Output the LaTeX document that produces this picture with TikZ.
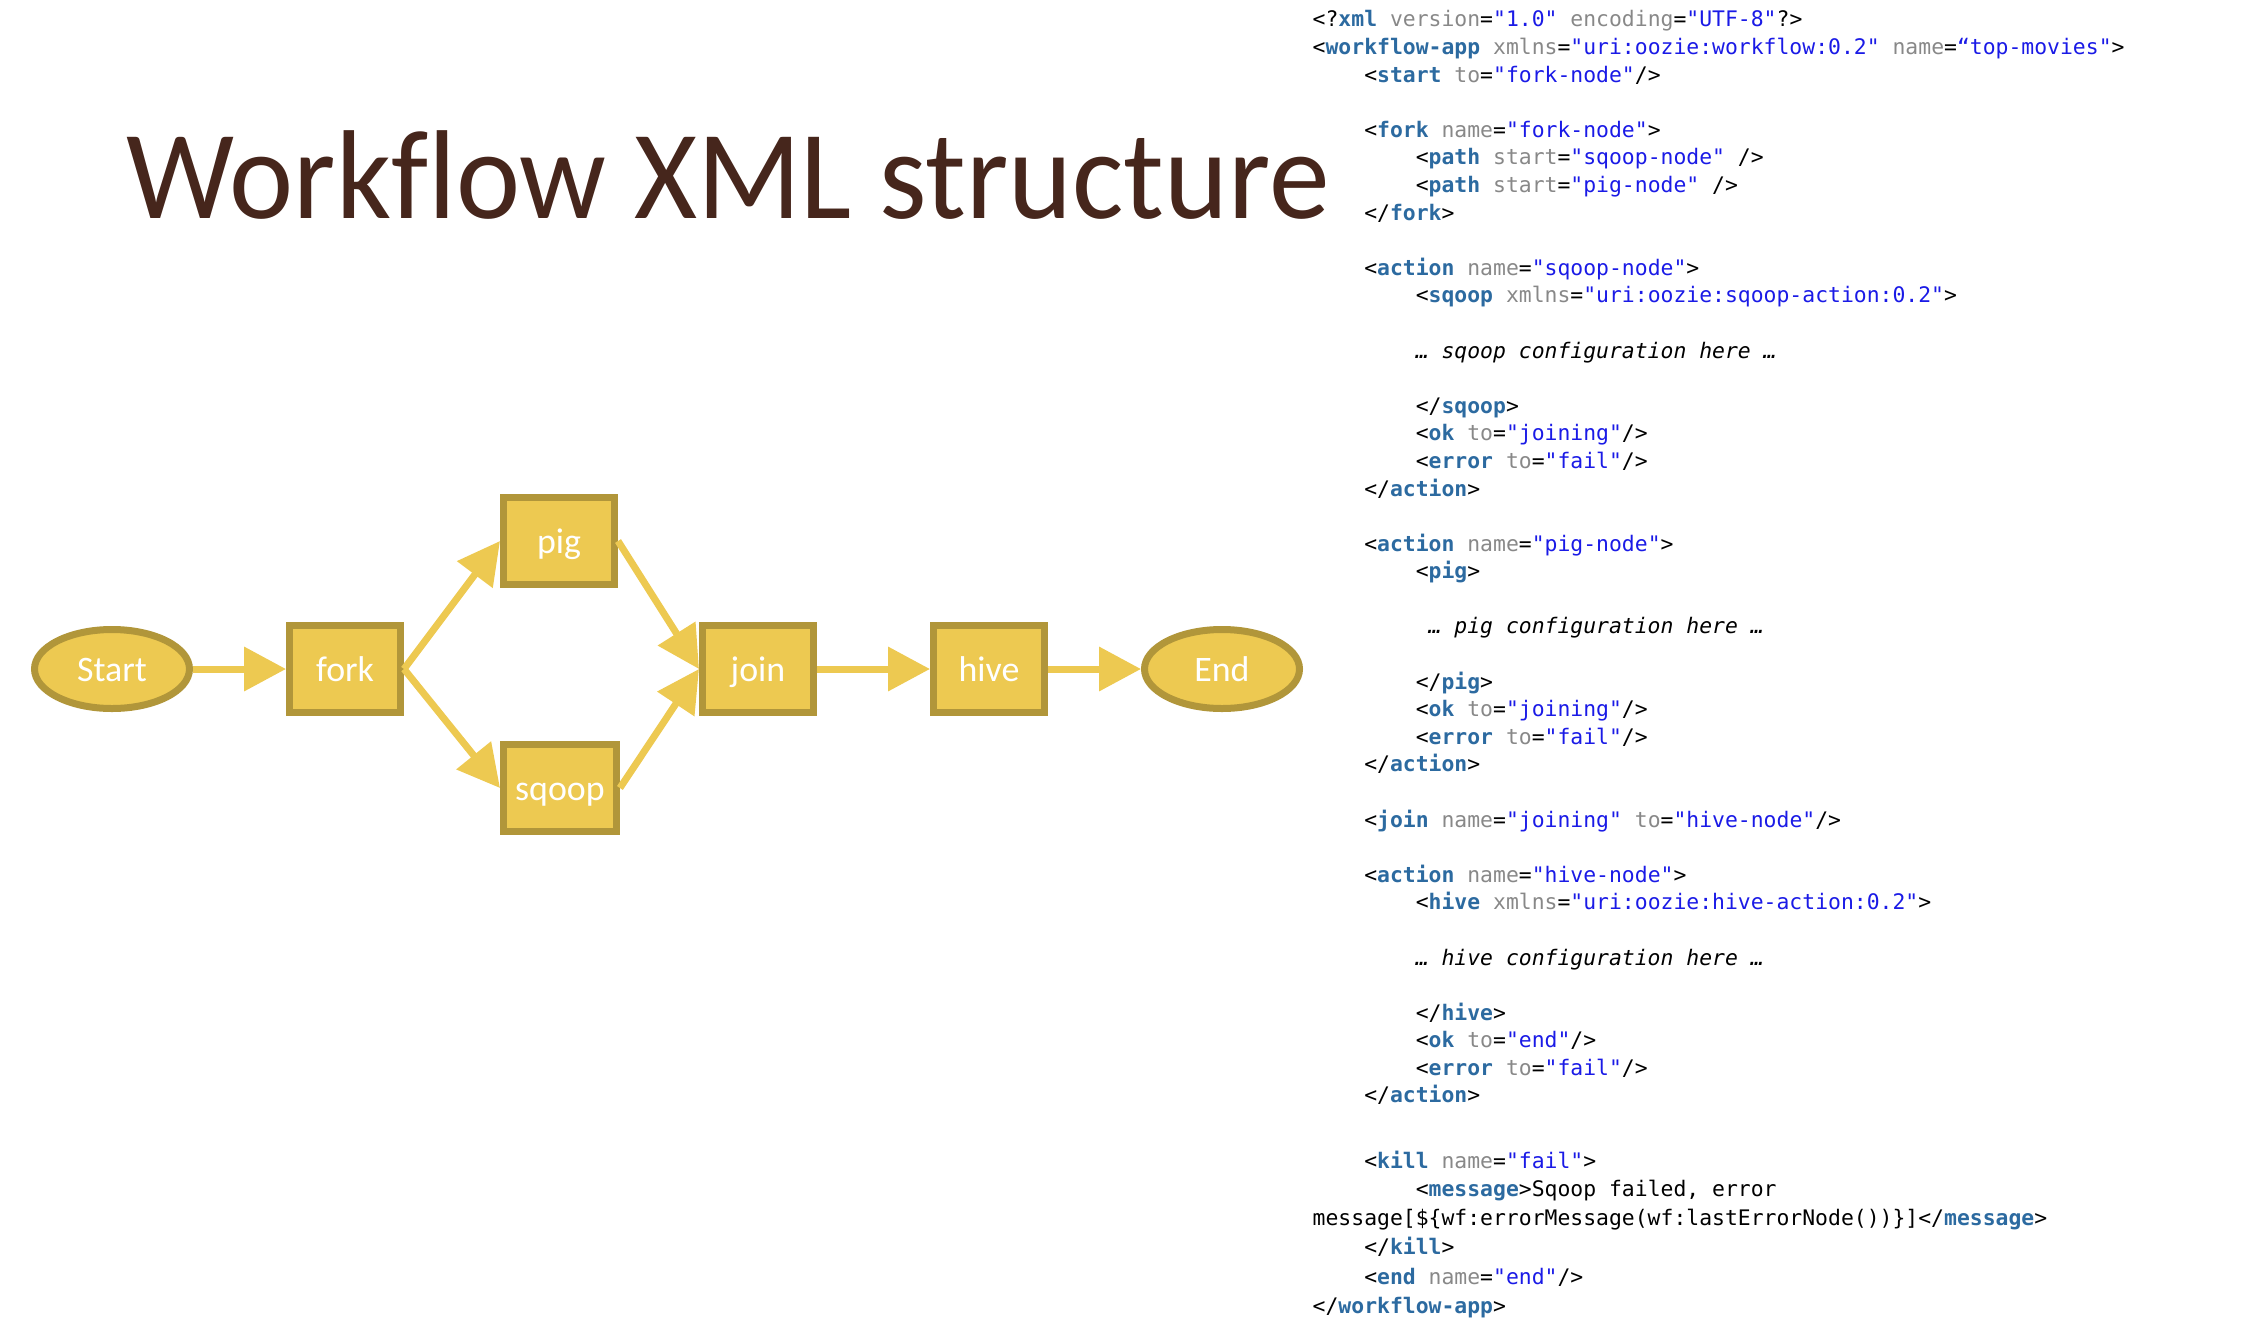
\documentclass[tikz,border=0pt]{standalone}
\usepackage{fontspec}
\usepackage{xcolor}
\usepackage{tikz}
\usetikzlibrary{shapes.geometric, arrows.meta, positioning}

\setmainfont{Carlito}
\newfontfamily\headfont[FakeStretch=0.96, Ligatures=NoCommon]{Carlito}
\newfontfamily\xmlmono{DejaVu Sans Mono}

\definecolor{flowfill}{HTML}{EDC951}
\definecolor{flowline}{HTML}{B1963A}
\definecolor{titlebrown}{HTML}{46261C}
\definecolor{tagblue}{HTML}{2C6AA0}
\definecolor{attrgray}{HTML}{888888}
\definecolor{valblue}{HTML}{1A1AE6}

\newcommand\xt[1]{\textcolor{tagblue}{\bfseries #1}}
\newcommand\xa[1]{\textcolor{attrgray}{#1}}
\newcommand\xv[1]{\textcolor{valblue}{#1}}
\newcommand\xind[1]{\hspace*{#1\fontcharwd\font`0}}

\tikzset{
  title/.style={text=titlebrown, font=\headfont\fontsize{36}{40}\selectfont, inner sep=0pt},
  stepbox/.style={rectangle, draw=flowline, fill=flowfill, line width=0.07cm,
    minimum width=1.11cm, minimum height=0.87cm, text=white,
    text height=0.95em, text depth=0.23em,
    font=\fontsize{10.2}{12}\selectfont},
  terminal/.style={ellipse, draw=flowline, fill=flowfill, line width=0.07cm,
    minimum width=1.55cm, minimum height=0.79cm, inner sep=0pt, text=white,
    text height=0.95em, text depth=0.23em,
    font=\fontsize{10.2}{12}\selectfont},
  flowarrow/.style={draw=flowfill, line width=0.07cm,
    -{Triangle[length=0.42cm, width=0.43cm]}},
  codeblock/.style={align=left, inner sep=0pt,
    font=\xmlmono\fontsize{6.09}{7.85}\selectfont}
}

\begin{document}
\begin{tikzpicture}
\useasboundingbox (0,0) rectangle (22.46,-13.42);

\node[title, anchor=base west] (heading) at (1.26,-2.18) {Workflow XML structure};

% workflow graph
\node[terminal] (start) at (1.12,-6.69) {Start};
\node[stepbox, right=0.93cm of start] (fork) {fork};
\node[stepbox, right=0.96cm of fork, yshift=1.28cm] (pig) {pig};
\node[stepbox, right=0.96cm of fork, yshift=-1.19cm] (sqoop) {sqoop};
\node[stepbox, right=2.95cm of fork] (join) {join};
\node[stepbox, right=1.13cm of join] (hive) {hive};
\node[terminal, right=0.93cm of hive] (end) {End};

\draw[flowarrow] (start) -- (fork);
\draw[flowarrow] (fork.east) -- (pig.west);
\draw[flowarrow] (fork.east) -- (sqoop.west);
\draw[flowarrow] (pig.east) -- (join.west);
\draw[flowarrow] (sqoop.east) -- (join.west);
\draw[flowarrow] (join) -- (hive);
\draw[flowarrow] (hive) -- (end);

% xml listing
\node[codeblock, anchor=north west] (xmlcode) at (13.12,-0.10) {%
<?\xt{xml} \xa{version}=\xv{"1.0"} \xa{encoding}=\xv{"UTF-8"}?>\\
<\xt{workflow-app} \xa{xmlns}=\xv{"uri:oozie:workflow:0.2"} \xa{name}=\xv{“top-movies"}>\\
\xind{4}<\xt{start} \xa{to}=\xv{"fork-node"}/>\\
\strut\\
\xind{4}<\xt{fork} \xa{name}=\xv{"fork-node"}>\\
\xind{8}<\xt{path} \xa{start}=\xv{"sqoop-node"} />\\
\xind{8}<\xt{path} \xa{start}=\xv{"pig-node"} />\\
\xind{4}</\xt{fork}>\\
\strut\\
\xind{4}<\xt{action} \xa{name}=\xv{"sqoop-node"}>\\
\xind{8}<\xt{sqoop} \xa{xmlns}=\xv{"uri:oozie:sqoop-action:0.2"}>\\
\strut\\
\xind{8}\textit{… sqoop configuration here …}\\
\strut\\
\xind{8}</\xt{sqoop}>\\
\xind{8}<\xt{ok} \xa{to}=\xv{"joining"}/>\\
\xind{8}<\xt{error} \xa{to}=\xv{"fail"}/>\\
\xind{4}</\xt{action}>\\
\strut\\
\xind{4}<\xt{action} \xa{name}=\xv{"pig-node"}>\\
\xind{8}<\xt{pig}>\\
\strut\\
\xind{9}\textit{… pig configuration here …}\\
\strut\\
\xind{8}</\xt{pig}>\\
\xind{8}<\xt{ok} \xa{to}=\xv{"joining"}/>\\
\xind{8}<\xt{error} \xa{to}=\xv{"fail"}/>\\
\xind{4}</\xt{action}>\\
\strut\\
\xind{4}<\xt{join} \xa{name}=\xv{"joining"} \xa{to}=\xv{"hive-node"}/>\\
\strut\\
\xind{4}<\xt{action} \xa{name}=\xv{"hive-node"}>\\
\xind{8}<\xt{hive} \xa{xmlns}=\xv{"uri:oozie:hive-action:0.2"}>\\
\strut\\
\xind{8}\textit{… hive configuration here …}\\
\strut\\
\xind{8}</\xt{hive}>\\
\xind{8}<\xt{ok} \xa{to}=\xv{"end"}/>\\
\xind{8}<\xt{error} \xa{to}=\xv{"fail"}/>\\
\xind{4}</\xt{action}>\\[3pt]
\strut\\
\xind{4}<\xt{kill} \xa{name}=\xv{"fail"}>\\
\xind{8}<\xt{message}>Sqoop failed, error\\[0.5pt]
message[\$\{wf:errorMessage(wf:lastErrorNode())\}]</\xt{message}>\\[0.5pt]
\xind{4}</\xt{kill}>\\[0.5pt]
\xind{4}<\xt{end} \xa{name}=\xv{"end"}/>\\[0.5pt]
</\xt{workflow-app}>};
\end{tikzpicture}
\end{document}
